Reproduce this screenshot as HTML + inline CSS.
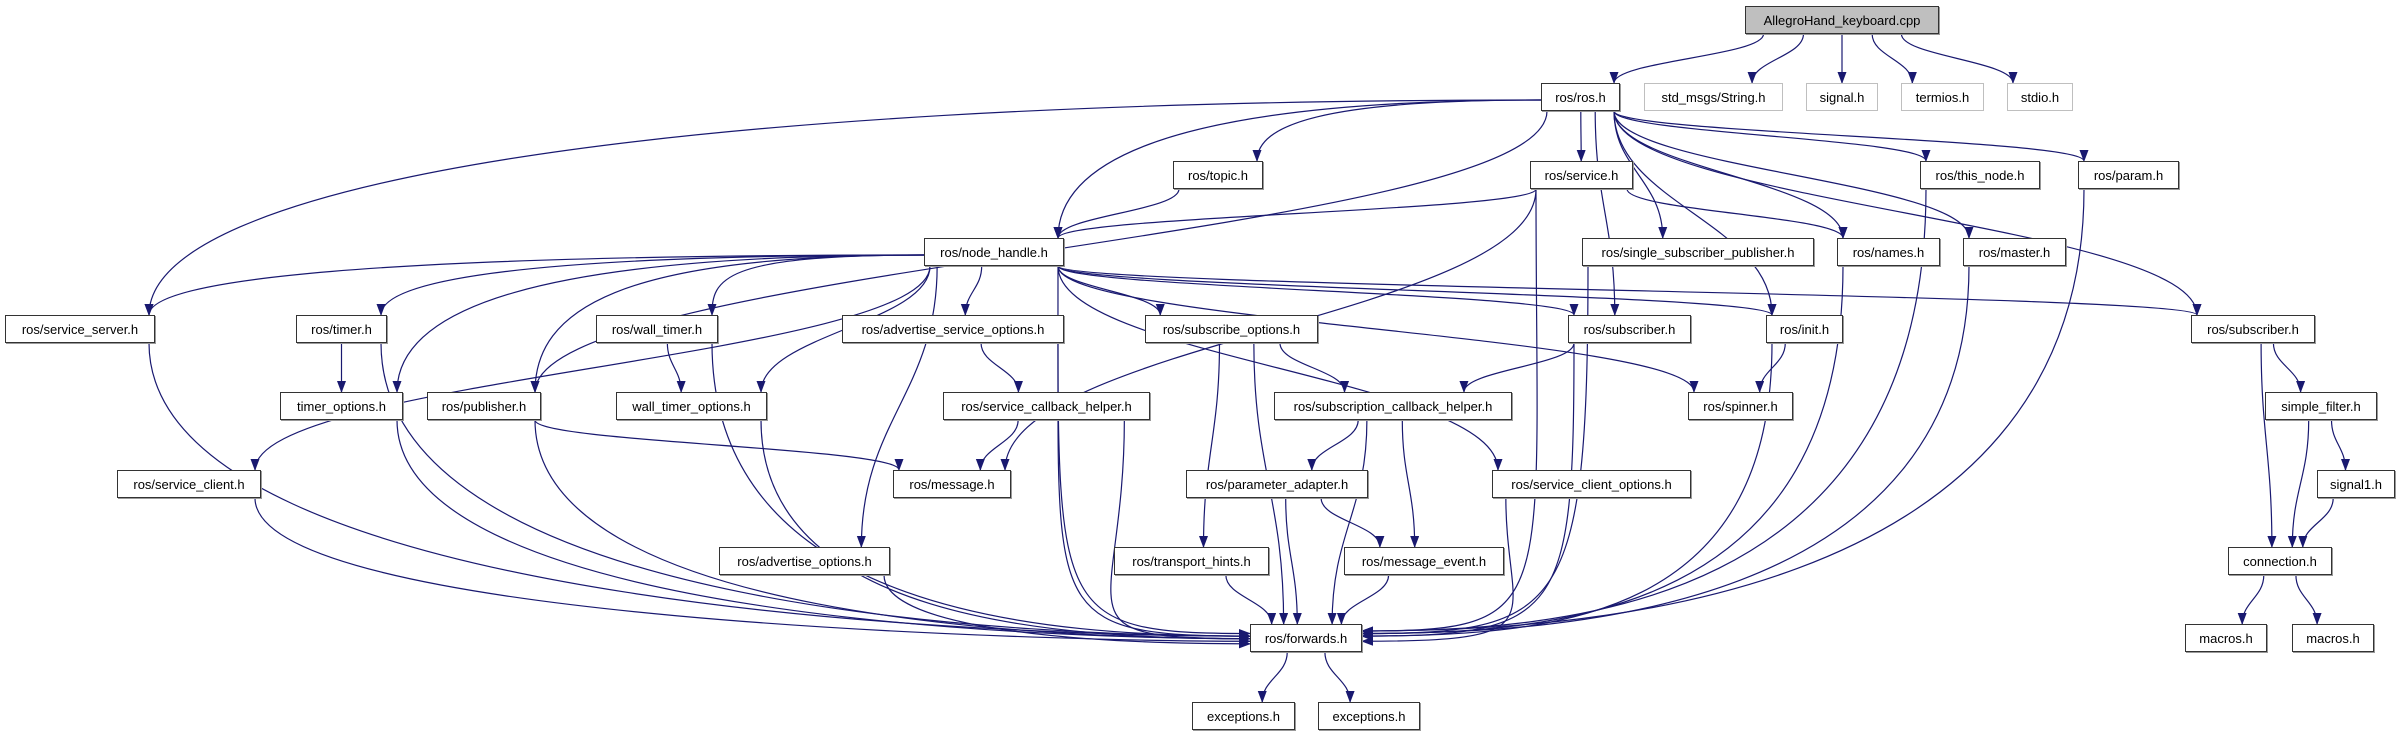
<!DOCTYPE html>
<html><head><meta charset="utf-8">
<style>
html,body{margin:0;padding:0;background:#fff;}
#c{position:relative;width:2397px;height:736px;overflow:hidden;}
.n{position:absolute;box-sizing:border-box;border:1.5px solid #333;background:#fff;font-family:"Liberation Sans",sans-serif;font-size:13px;color:#000;display:flex;align-items:center;justify-content:center;white-space:nowrap;box-shadow:1px 1px 0 #999;}
.g{border-color:#bfbfbf;box-shadow:none;}
.r{background:#bfbfbf;}
svg{position:absolute;left:0;top:0;}
</style></head><body>
<div id="c">
<svg id="s" width="2397" height="736"><defs><marker id="a" markerUnits="userSpaceOnUse" markerWidth="12" markerHeight="10" refX="11" refY="4.5" orient="auto"><path d="M0,0 L12,4.5 L0,9 z" fill="#191970"/></marker></defs></svg>
</div>
<script>
var N={
allegro:[1745,6,1939,34,"AllegroHand_keyboard.cpp","r"],
ros:[1541,83,1620,111,"ros/ros.h"],
str:[1644,83,1783,111,"std_msgs/String.h","g"],
sig:[1806,83,1878,111,"signal.h","g"],
term:[1901,83,1984,111,"termios.h","g"],
stdio:[2007,83,2073,111,"stdio.h","g"],
topic:[1173,161,1263,189,"ros/topic.h"],
service:[1530,161,1633,189,"ros/service.h"],
thisn:[1920,161,2040,189,"ros/this_node.h"],
param:[2078,161,2179,189,"ros/param.h"],
nh:[924,238,1064,266,"ros/node_handle.h"],
ssp:[1582,238,1814,266,"ros/single_subscriber_publisher.h"],
names:[1837,238,1940,266,"ros/names.h"],
master:[1963,238,2066,266,"ros/master.h"],
ssrv:[5,315,155,343,"ros/service_server.h"],
timer:[296,315,387,343,"ros/timer.h"],
wtimer:[596,315,718,343,"ros/wall_timer.h"],
aso:[842,315,1064,343,"ros/advertise_service_options.h"],
so:[1145,315,1318,343,"ros/subscribe_options.h"],
sub1:[1568,315,1691,343,"ros/subscriber.h"],
init:[1766,315,1843,343,"ros/init.h"],
sub2:[2191,315,2315,343,"ros/subscriber.h"],
topt:[280,392,403,420,"timer_options.h"],
pub:[427,392,541,420,"ros/publisher.h"],
wtopt:[616,392,767,420,"wall_timer_options.h"],
sch:[943,392,1150,420,"ros/service_callback_helper.h"],
subch:[1274,392,1512,420,"ros/subscription_callback_helper.h"],
spin:[1688,392,1793,420,"ros/spinner.h"],
sf:[2265,392,2377,420,"simple_filter.h"],
sc:[117,470,261,498,"ros/service_client.h"],
msg:[893,470,1011,498,"ros/message.h"],
pa:[1186,470,1368,498,"ros/parameter_adapter.h"],
sco:[1492,470,1691,498,"ros/service_client_options.h"],
sig1:[2317,470,2395,498,"signal1.h"],
ao:[719,547,890,575,"ros/advertise_options.h"],
th:[1114,547,1269,575,"ros/transport_hints.h"],
me:[1344,547,1504,575,"ros/message_event.h"],
conn:[2228,547,2332,575,"connection.h"],
fw:[1250,624,1362,652,"ros/forwards.h"],
mac1:[2185,624,2267,652,"macros.h"],
mac2:[2292,624,2374,652,"macros.h"],
ex1:[1192,702,1295,730,"exceptions.h"],
ex2:[1318,702,1420,730,"exceptions.h"]
};
var E=[["allegro","ros"],["allegro","str"],["allegro","sig"],["allegro","term"],["allegro","stdio"],
["ros","ssrv"],["ros","pub"],["ros","nh"],["ros","topic"],["ros","service"],["ros","sub1"],["ros","ssp"],["ros","names"],["ros","init"],["ros","thisn"],["ros","master"],["ros","param"],["ros","sub2"],
["topic","nh"],["service","nh"],["service","msg"],["service","names"],["service","fw"],
["nh","ssrv"],["nh","timer"],["nh","topt"],["nh","pub"],["nh","wtimer"],["nh","wtopt"],["nh","sc"],["nh","ao"],["nh","aso"],["nh","so"],["nh","sub1"],["nh","init"],["nh","spin"],["nh","sub2"],["nh","sco"],["nh","fw"],
["timer","topt"],["timer","fw"],["wtimer","wtopt"],["wtimer","fw"],["ssrv","fw"],["topt","fw"],["pub","msg"],["pub","fw"],["wtopt","fw"],["sc","fw"],["ao","fw"],
["aso","sch"],["aso","fw"],["sch","msg"],["sch","fw"],["so","subch"],["so","th"],["so","fw"],["sub1","subch"],["sub1","fw"],
["subch","pa"],["subch","me"],["subch","fw"],["pa","me"],["pa","fw"],["th","fw"],["me","fw"],["sco","fw"],["init","spin"],["init","fw"],
["ssp","fw"],["names","fw"],["master","fw"],["thisn","fw"],["param","fw"],["fw","ex1"],["fw","ex2"],
["sub2","conn"],["sub2","sf"],["sf","sig1"],["sf","conn"],["sig1","conn"],["conn","mac1"],["conn","mac2"]];
var c=document.getElementById("c"),s=document.getElementById("s");
for(var k in N){var n=N[k],d=document.createElement("div");d.className="n"+(n[5]?" "+n[5]:"");
d.style.left=n[0]+"px";d.style.top=n[1]+"px";d.style.width=(n[2]-n[0])+"px";d.style.height=(n[3]-n[1])+"px";d.textContent=n[4];c.appendChild(d);}
function cl(v,a,b){return Math.max(a,Math.min(b,v));}
E.forEach(function(e){var a=N[e[0]],b=N[e[1]];
var ax=(a[0]+a[2])/2,bx=(b[0]+b[2])/2,aw=(a[2]-a[0])/2,bw=(b[2]-b[0])/2;
var sx=ax+cl((bx-ax)*0.3,-aw+6,aw-6),sy=a[3];
var p,dxa=Math.abs(bx-ax),dya=b[1]-a[3];
if(e[1]=="fw"&&dxa>250){
 var L=ax<bx,tx=L?b[0]:b[2],ty=(b[1]+b[3])/2+cl((a[3]-400)/30,-8,8);
 p="M"+sx+","+sy+" C"+sx+","+(ty-20)+" "+(L?tx-200:tx+200)+","+ty+" "+tx+","+ty;
}else if((e[0]=="ros"||e[0]=="nh")&&bx<ax&&dxa>4*dya&&dxa>300){
 var sx2=a[0],sy2=(a[1]+a[3])/2+3;
 var tx=bx+cl((ax-bx)*0.3,-bw+6,bw-6),ty=b[1];
 p="M"+sx2+","+sy2+" C"+(sx2-dxa*0.6)+","+sy2+" "+tx+","+(ty-(ty-sy2)*0.6)+" "+tx+","+ty;
}else{
 var tx=bx+cl((ax-bx)*0.3,-bw+6,bw-6),ty=b[1],dy=ty-sy;
 p="M"+sx+","+sy+" C"+sx+","+(sy+dy*0.45)+" "+tx+","+(ty-dy*0.45)+" "+tx+","+ty;
}
var q=document.createElementNS("http://www.w3.org/2000/svg","path");
q.setAttribute("d",p);q.setAttribute("fill","none");q.setAttribute("stroke","#191970");q.setAttribute("stroke-width","1.2");q.setAttribute("marker-end","url(#a)");s.appendChild(q);});
</script>
</body></html>
